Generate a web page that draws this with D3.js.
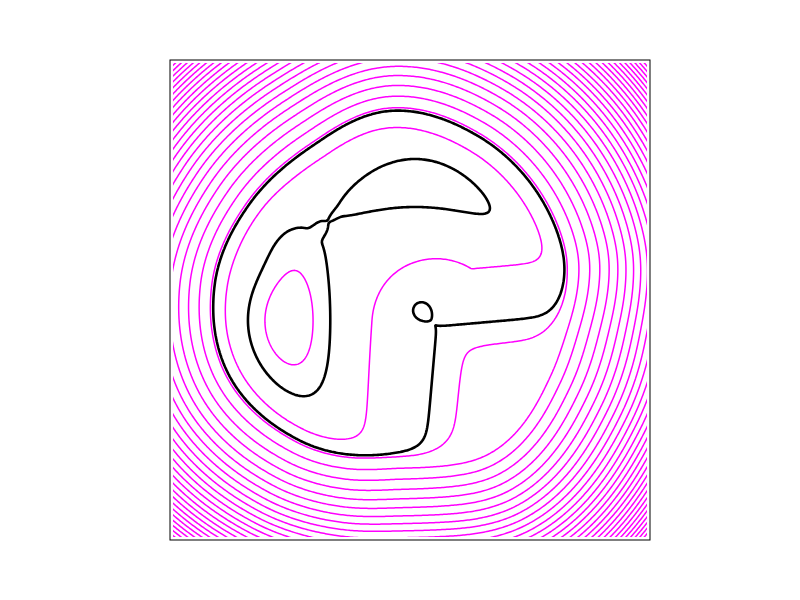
<!DOCTYPE html>
<html><head><meta charset="utf-8">
<script src="https://cdn.jsdelivr.net/npm/d3@7"></script>
<style>body{margin:0;background:#fff}</style>
</head><body>
<svg id="chart" width="800" height="600"></svg>
<script>
// ---- axis extent (data units) ----
const xDomain = [-3, 3];
const yDomain = [-3, 3];

// ---- contour levels ----
const magentaLevels = d3.range(-1.75, 50, 1);
const blackLevels = [-1.3, 0];

// ---- basin ----
const bowlCenter = [-0.25, 0.1875];
const rimAngles = [0, 30, 60, 90, 120, 150, 180, 210, 240, 270, 300, 330];
const rimRadius = [2.225, 2.175, 2.1625, 2.175, 1.9875, 2.025, 2.1875, 2.3, 2.2375, 2.175, 2.4375, 2.3];
const bowlFloor = 0.85;
const bowlInnerPower = 21;
const outerSlope = [6.6, 1.4, 0.9];  // d, d^2, d^3 growth outside the rim

// ---- ridge wedge entering from the lower right ----
const ridgeApex = [0.325, -0.325];
const ridgeEdgeAngles = [5, -95];    // edge directions (degrees)
const ridgeEdgeScale = [1.25, 1.0];
const ridgeSlope = 1.04;
const ridgeRange = [-0.825, 0.325];
const ridgeSoft = 0.15;

// ---- small hill at the ridge tip ----
const hillCenter = [0.125, -0.1125];
const hillAmp = 0.48;
const hillSigma = 0.11;

// ---- valleys: left lobe, its upper shoulder, its tip, top lobe ----
const valleyCx    = [-1.5125, -1.475,  -1.0625, 0.0625];
const valleyCy    = [-0.2625,  0.75,    0.95,   1.4625];
const valleySx    = [0.925,    0.375,   0.1125, 0.981];
const valleySy    = [0.5075,   0.425,   0.25,   0.314];
const valleyDepth = [1.28,     0.25,    0.175,  0.85];
const valleyTilt  = [90,      -42,     -42,     0];
const valleyBend  = [0.2,      0,       0,      0.36];
const valleyPower = [1,        1,       2,      5];

function rimAt(deg) {
  const n = rimRadius.length, step = 360 / n;
  const u = (((deg % 360) + 360) % 360) / step;
  const i = Math.floor(u), f = u - i;
  const p0 = rimRadius[(i - 1 + n) % n], p1 = rimRadius[i % n],
        p2 = rimRadius[(i + 1) % n], p3 = rimRadius[(i + 2) % n];
  const f2 = f * f, f3 = f2 * f;
  return 0.5 * ((2 * p1) + (-p0 + p2) * f + (2 * p0 - 5 * p1 + 4 * p2 - p3) * f2 + (-p0 + 3 * p1 - 3 * p2 + p3) * f3);
}
const softplus = z => ridgeSoft * Math.log1p(Math.exp(z / ridgeSoft));

const e1 = [Math.cos(ridgeEdgeAngles[0] * Math.PI / 180), Math.sin(ridgeEdgeAngles[0] * Math.PI / 180)];
const e2 = [Math.cos(ridgeEdgeAngles[1] * Math.PI / 180), Math.sin(ridgeEdgeAngles[1] * Math.PI / 180)];
const n1 = [e1[1], -e1[0]];   // inward normal of the upper edge
const n2 = [-e2[1], e2[0]];   // inward normal of the lower edge

function wedgeDistance(x, y) {
  const qx = x - ridgeApex[0], qy = y - ridgeApex[1];
  const a = (qx * n1[0] + qy * n1[1]) * ridgeEdgeScale[0];
  const b = (qx * n2[0] + qy * n2[1]) * ridgeEdgeScale[1];
  if (a >= 0 && b >= 0) {
    if (a === 0 || b === 0) return 0;
    return Math.pow(Math.pow(a, -3) + Math.pow(b, -3), -1 / 3);
  }
  const s1 = Math.max(0, qx * e1[0] + qy * e1[1]);
  const s2 = Math.max(0, qx * e2[0] + qy * e2[1]);
  const d1 = Math.hypot(qx - s1 * e1[0], qy - s1 * e1[1]) * ridgeEdgeScale[0];
  const d2 = Math.hypot(qx - s2 * e2[0], qy - s2 * e2[1]) * ridgeEdgeScale[1];
  return -Math.min(d1, d2);
}

function field(x, y) {
  const dx = x - bowlCenter[0], dy = y - bowlCenter[1];
  const r = Math.hypot(dx, dy);
  const R = rimAt(Math.atan2(dy, dx) * 180 / Math.PI);
  let f;
  if (r < R) f = bowlFloor * (Math.pow(r / R, bowlInnerPower) - 1);
  else { const d = r - R; f = outerSlope[0] * d + outerSlope[1] * d * d + outerSlope[2] * d * d * d; }
  const t = wedgeDistance(x, y);
  f += ridgeSlope * (softplus(t - ridgeRange[0]) - softplus(t - ridgeRange[1]));
  f += hillAmp * Math.exp(-((x - hillCenter[0]) ** 2 + (y - hillCenter[1]) ** 2) / (2 * hillSigma * hillSigma));
  for (let k = 0; k < valleyCx.length; k++) {
    const ex = x - valleyCx[k], ey = y - valleyCy[k];
    const ph = valleyTilt[k] * Math.PI / 180;
    const u = ex * Math.cos(ph) + ey * Math.sin(ph);
    let v = -ex * Math.sin(ph) + ey * Math.cos(ph);
    v += valleyBend[k] * u * u;
    const q = (u / valleySx[k]) ** 2 + (v / valleySy[k]) ** 2;
    f -= valleyDepth[k] * Math.exp(-Math.pow(q, valleyPower[k]));
  }
  return f;
}

// ---- layout ----
const svg = d3.select("#chart");
const plot = {left: 170, top: 60, size: 480};
const xScale = d3.scaleLinear().domain(xDomain).range([plot.left, plot.left + plot.size]);
const yScale = d3.scaleLinear().domain(yDomain).range([plot.top + plot.size, plot.top]);

// ---- sample grid ----
const step = 0.02, pad = 0.1;
const gx0 = xDomain[0] - pad, gy0 = yDomain[1] + pad;
const nx = Math.round((xDomain[1] - xDomain[0] + 2 * pad) / step) + 1;
const ny = Math.round((yDomain[1] - yDomain[0] + 2 * pad) / step) + 1;
const values = new Float64Array(nx * ny);
for (let j = 0; j < ny; j++) {
  const y = gy0 - j * step;
  for (let i = 0; i < nx; i++) values[j * nx + i] = field(gx0 + i * step, y);
}

const proj = d3.geoTransform({
  point(gx, gy) {
    this.stream.point(xScale(gx0 + (gx - 0.5) * step), yScale(gy0 - (gy - 0.5) * step));
  }
});
const path = d3.geoPath(proj);
const contours = d3.contours().size([nx, ny]);

const inset = 3;
svg.append("clipPath").attr("id", "clip").append("rect")
  .attr("x", plot.left + inset).attr("y", plot.top + inset)
  .attr("width", plot.size - 2 * inset).attr("height", plot.size - 2 * inset);

const g = svg.append("g").attr("clip-path", "url(#clip)");
g.selectAll("path.m").data(contours.thresholds(magentaLevels)(values)).join("path")
  .attr("class", "m").attr("d", path).attr("fill", "none")
  .attr("stroke", "#ff00ff").attr("stroke-width", 1.5).attr("stroke-linejoin", "round");
g.selectAll("path.k").data(contours.thresholds(blackLevels)(values)).join("path")
  .attr("class", "k").attr("d", path).attr("fill", "none")
  .attr("stroke", "#000").attr("stroke-width", 2.6).attr("stroke-linejoin", "round");

svg.append("rect").attr("x", plot.left).attr("y", plot.top)
  .attr("width", plot.size).attr("height", plot.size)
  .attr("fill", "none").attr("stroke", "#000").attr("stroke-width", 1);
</script>
</body></html>
